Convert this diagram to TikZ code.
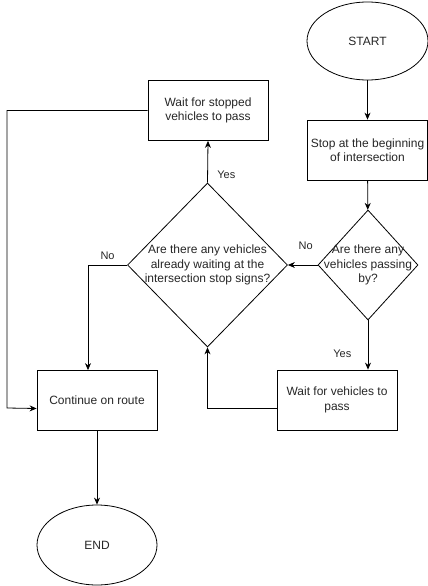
\documentclass[tikz,border=0pt]{standalone}
\usepackage{fontspec}
\setmainfont{Liberation Sans}
\usetikzlibrary{arrows.meta,shapes.geometric,calc}

\begin{document}
\begin{tikzpicture}[x=1pt,y=-1pt,
  box/.style={draw, line width=0.8pt, minimum width=120pt, minimum height=60pt, inner sep=2pt, align=center, font=\fontsize{12}{14.5}\selectfont, text=black!85},
  oval/.style={box, ellipse, inner sep=0pt},
  decision/.style={draw, line width=0.8pt, diamond, inner sep=0pt},
  dtext/.style={align=center, font=\fontsize{12}{14.5}\selectfont, text=black!85},
  arr/.style={-{Stealth[length=7pt,width=6pt]}, line width=0.8pt},
  lbl/.style={font=\fontsize{11}{13}\selectfont, text=black!85}]
\useasboundingbox (0,0) rectangle (428,586);
% Right column
\node[oval, minimum width=121pt, minimum height=78pt] (start) at (367.5,41) {START};
\node[box] (stop) at (367.5,150) {Stop at the beginning\\of intersection};
\node[decision, minimum width=100pt, minimum height=110pt, label={[dtext]center:Are there any\\vehicles passing\\by?}] (passing) at (368,265) {};
\node[box] (waitpass) at (337,400) {Wait for vehicles to\\pass};
% Middle column
\node[decision, minimum width=160pt, minimum height=164pt, label={[dtext]center:Are there any vehicles\\already waiting at the\\intersection stop signs?}] (waiting) at (207.5,265) {};
\node[box] (stopped) at (208,110.5) {Wait for stopped\\vehicles to pass};
% Left column
\node[box] (cont) at (97,400.5) {Continue on route};
\node[oval, minimum width=120pt, minimum height=80pt] (end) at (97,545) {END};
\coordinate (back) at (7,408);
% Connectors
\draw[arr] (start) -- (stop);
\draw[arr] (stop) -- (passing);
\draw[arr] (passing.west) -- node[lbl, above=12pt, pos=0.4] {No} (waiting.east);
\draw[arr] (passing.south) -- node[lbl, left=13pt, pos=0.68] {Yes} (passing.south |- waitpass.north);
\draw[arr] ($(waitpass.west)+(0,8)$) -| (waiting.south);
\draw[arr] (waiting.north) -- node[lbl, right=6pt, pos=0.19] {Yes} (stopped.south);
\draw[arr] (waiting.west) -| node[lbl, above=2pt, pos=0.25] {No} ($(cont.north)+(-9,0)$);
\draw[arr] (stopped.west) -| (back) -- ($(cont.west)+(0,8)$);
\draw[arr] (cont) -- (end);
\end{tikzpicture}
\end{document}
